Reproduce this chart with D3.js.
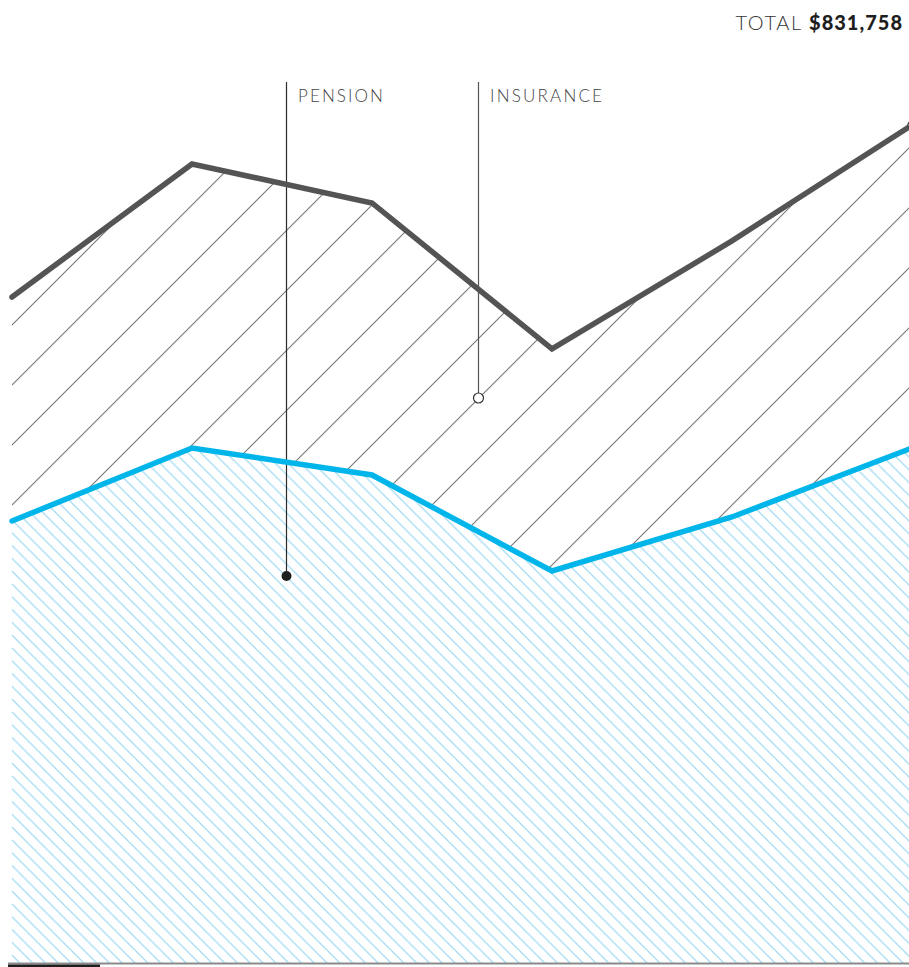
<!DOCTYPE html>
<html>
<head>
<meta charset="utf-8">
<script src="https://cdn.jsdelivr.net/npm/d3@7"></script>
<style>
  body { margin: 0; background: #fff; }
  svg { display: block; }
  .label { font-family: Lato, "Noto Sans", sans-serif; font-weight: 300; fill: #444; }
</style>
</head>
<body>
<div id="chart"></div>
<script>
var periods = ["1", "2", "3", "4", "5", "6"];
var pension = [438700, 511200, 484400, 389100, 442700, 511200];
var insurance = [222300, 281900, 270000, 220400, 274000, 320558];
var totalLabel = "$831,758";
var seriesNames = ["PENSION", "INSURANCE"];

var width = 909;
var height = 967;

function drawChart() {
    var svg = d3.select("#chart").append("svg").attr("width", width).attr("height", height);
    var defs = svg.append("defs");

    // hatch for pension: "\" lines, light blue
    var pb = defs.append("pattern").attr("id", "hatch-blue")
        .attr("patternUnits", "userSpaceOnUse")
        .attr("width", 12.8).attr("height", 12.8).attr("x", 4).attr("y", 0);
    pb.append("path")
        .attr("d", "M0,0 L12.8,12.8 M-1,11.8 L1,13.8 M11.8,-1 L13.8,1")
        .attr("stroke", "#8fd4f0").attr("stroke-width", 1.1);

    // hatch for insurance: "/" lines, grey
    var pg = defs.append("pattern").attr("id", "hatch-grey")
        .attr("patternUnits", "userSpaceOnUse")
        .attr("width", 60).attr("height", 60).attr("x", 37).attr("y", 0);
    pg.append("path")
        .attr("d", "M-1,1 L1,-1 M0,60 L60,0 M59,61 L61,59")
        .attr("stroke", "#767676").attr("stroke-width", 1.1);

    var rows = periods.map(function(p, i) {
        return {period: p, pension: pension[i], insurance: insurance[i]};
    });
    var stacked = d3.stack().keys(["pension", "insurance"])(rows);

    var x = d3.scalePoint().domain(periods).range([12, 912]);
    var y = d3.scaleLinear().domain([0, 831758]).range([963, 125]);

    var area = d3.area()
        .x(function(d) { return x(d.data.period); })
        .y0(function(d) { return y(d[0]); })
        .y1(function(d) { return y(d[1]); });

    svg.append("path").datum(stacked[0]).attr("d", area).attr("fill", "url(#hatch-blue)");
    svg.append("path").datum(stacked[1]).attr("d", area).attr("fill", "url(#hatch-grey)");

    var line = d3.line()
        .x(function(d) { return x(d.data.period); })
        .y(function(d) { return y(d[1]); });

    // axis baseline
    svg.append("line").attr("x1", 8).attr("x2", width).attr("y1", 963.5).attr("y2", 963.5)
        .attr("stroke", "#8a8a8a").attr("stroke-width", 2);
    svg.append("rect").attr("x", 8).attr("y", 964.5).attr("width", 92).attr("height", 3.5)
        .attr("fill", "#1e1e1e");

    // leader lines
    svg.append("line").attr("x1", 286.5).attr("x2", 286.5).attr("y1", 82).attr("y2", 576)
        .attr("stroke", "#2a2a2a").attr("stroke-width", 1.2);
    svg.append("line").attr("x1", 478.5).attr("x2", 478.5).attr("y1", 82).attr("y2", 393)
        .attr("stroke", "#555").attr("stroke-width", 1.2);

    svg.append("path").datum(stacked[1]).attr("d", line)
        .attr("fill", "none").attr("stroke", "#545454").attr("stroke-width", 5.5)
        .attr("stroke-linecap", "round").attr("stroke-linejoin", "miter");
    svg.append("path").datum(stacked[0]).attr("d", line)
        .attr("fill", "none").attr("stroke", "#00b5ea").attr("stroke-width", 5.5)
        .attr("stroke-linecap", "round").attr("stroke-linejoin", "miter");

    var last = stacked[1][stacked[1].length - 1];
    svg.append("circle").attr("cx", x(last.data.period)).attr("cy", y(last[1])).attr("r", 4)
        .attr("fill", "#fff").attr("stroke", "#333").attr("stroke-width", 1.3);

    svg.append("circle").attr("cx", 286.5).attr("cy", 576).attr("r", 5).attr("fill", "#1e1e1e");
    svg.append("circle").attr("cx", 478.5).attr("cy", 398).attr("r", 5)
        .attr("fill", "#fff").attr("stroke", "#333").attr("stroke-width", 1.2);

    svg.append("text").attr("class", "label").attr("x", 298).attr("y", 102)
        .attr("font-size", "17px").attr("letter-spacing", "2.1px").text(seriesNames[0]);
    svg.append("text").attr("class", "label").attr("x", 490).attr("y", 102)
        .attr("font-size", "17px").attr("letter-spacing", "2.2px").text(seriesNames[1]);

    var title = svg.append("text").attr("x", 903).attr("y", 30).attr("text-anchor", "end")
        .attr("font-family", "Lato, 'Noto Sans', sans-serif").attr("font-size", "20px");
    title.append("tspan").attr("font-weight", 300).attr("fill", "#333").attr("letter-spacing", "1.6px").text("TOTAL ");
    title.append("tspan").attr("font-weight", 900).attr("fill", "#1e1e1e").attr("letter-spacing", "1px").text(totalLabel);
}
drawChart();
</script>
</body>
</html>
